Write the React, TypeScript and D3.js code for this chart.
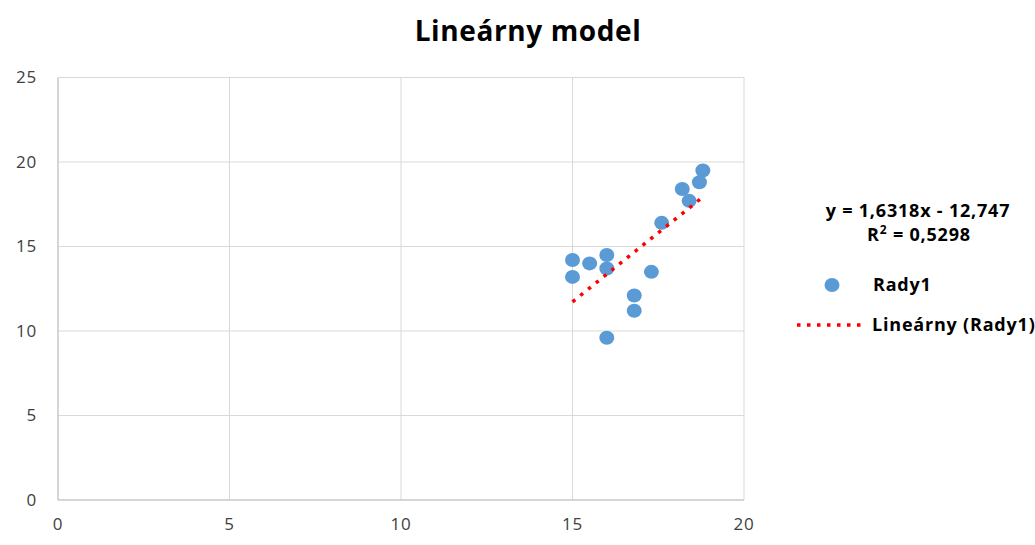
import React from "react";
import * as d3 from "d3";

const xValues = [18.8, 18.7, 18.2, 18.4, 17.6, 16, 15, 15.5, 16, 15, 17.3, 16.8, 16.8, 16];
const yValues = [19.5, 18.8, 18.4, 17.7, 16.4, 14.5, 14.2, 14.0, 13.7, 13.2, 13.5, 12.1, 11.2, 9.6];
const xTicks = [0, 5, 10, 15, 20];
const yTicks = [0, 5, 10, 15, 20, 25];
const slope = 1.6318;
const intercept = -12.747;
const title = "Lineárny model";
const equationText = "y = 1,6318x - 12,747";
const r2Label = "R";
const r2Value = " = 0,5298";
const seriesName = "Rady1";
const trendName = "Lineárny (Rady1)";

const W = 1035;
const H = 545;
const FONT = "'Open Sans', sans-serif";

export default function App() {
  const x = d3.scaleLinear().domain([0, 20]).range([58, 744]);
  const y = d3.scaleLinear().domain([0, 25]).range([500, 77.5]);
  const blue = "#5B9BD5";
  const grid = "#D9D9D9";
  const xMin = d3.min(xValues) as number;
  const xMax = d3.max(xValues) as number;
  const trendData: [number, number][] = [
    [xMin, slope * xMin + intercept],
    [xMax, slope * xMax + intercept],
  ];
  const line = d3
    .line<[number, number]>()
    .x((d) => x(d[0]))
    .y((d) => y(d[1]));
  const legendText = {
    fontFamily: FONT,
    fontWeight: "bold" as const,
    fontSize: 18,
    letterSpacing: 0.8,
    fill: "#000",
  };

  return (
    <svg
      width={W}
      height={H}
      style={{ position: "absolute", left: 0, top: 0, background: "#fff" }}
    >
      <rect width={W} height={H} fill="#fff" />
      <text
        x={528}
        y={41}
        textAnchor="middle"
        fontFamily={FONT}
        fontWeight="bold"
        fontSize={28}
        letterSpacing={0.6}
        fill="#000"
      >
        {title}
      </text>
      {yTicks.map((t) => (
        <line key={"gy" + t} x1={x(0)} x2={x(20)} y1={y(t)} y2={y(t)} stroke={grid} strokeWidth={1} />
      ))}
      {xTicks.map((t) => (
        <line key={"gx" + t} x1={x(t)} x2={x(t)} y1={y(0)} y2={y(25)} stroke={grid} strokeWidth={1} />
      ))}
      <line x1={x(0)} x2={x(0)} y1={y(0)} y2={y(25)} stroke="#BFBFBF" strokeWidth={1} />
      <line x1={x(0)} x2={x(20)} y1={y(0)} y2={y(0)} stroke="#BFBFBF" strokeWidth={1} />
      {yTicks.map((t) => (
        <text
          key={"ty" + t}
          x={37}
          y={y(t)}
          dy="0.35em"
          textAnchor="end"
          fontFamily={FONT}
          fontSize={17}
          letterSpacing={0.8}
          fill="#404040"
        >
          {t}
        </text>
      ))}
      {xTicks.map((t) => (
        <text
          key={"tx" + t}
          x={x(t)}
          y={530}
          textAnchor="middle"
          fontFamily={FONT}
          fontSize={17}
          letterSpacing={0.8}
          fill="#404040"
        >
          {t}
        </text>
      ))}
      {xValues.map((v, i) => (
        <ellipse key={"p" + i} cx={x(v)} cy={y(yValues[i])} rx={7.5} ry={7} fill={blue} />
      ))}
      <path
        d={line(trendData) || ""}
        fill="none"
        stroke="#FF0000"
        strokeWidth={3.5}
        strokeDasharray="3.5 6.5"
      />
      <text x={918} y={217} textAnchor="middle" {...legendText}>
        {equationText}
      </text>
      <text x={919} y={241} textAnchor="middle" {...legendText}>
        {r2Label}
        <tspan fontSize={12} dy={-7}>2</tspan>
        <tspan dy={7}>{r2Value}</tspan>
      </text>
      <ellipse cx={832} cy={285} rx={7.5} ry={7} fill={blue} />
      <text x={873} y={285} dy="0.35em" {...legendText}>
        {seriesName}
      </text>
      <line
        x1={797}
        x2={866}
        y1={325}
        y2={325}
        stroke="#FF0000"
        strokeWidth={3.5}
        strokeDasharray="3.5 6.5"
      />
      <text x={872} y={325} dy="0.35em" {...legendText}>
        {trendName}
      </text>
    </svg>
  );
}
